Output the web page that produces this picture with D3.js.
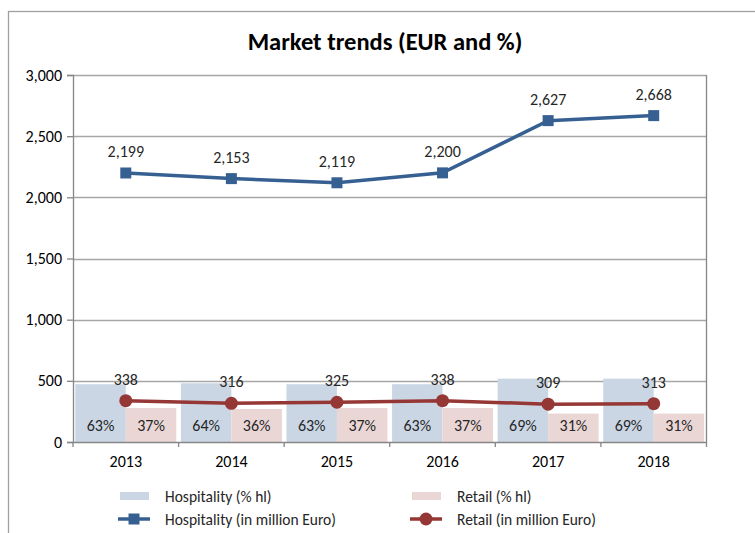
<!DOCTYPE html>
<html>
<head>
<meta charset="utf-8">
<script src="https://cdn.jsdelivr.net/npm/d3@7"></script>
<style>
  body { margin: 0; background: #fff; }
  svg text { font-family: Carlito, Calibri, Lato, "Open Sans", sans-serif; fill: #000; }
</style>
</head>
<body>
<script>
(function () {

    //chart data
    var years = ["2013", "2014", "2015", "2016", "2017", "2018"];
    var hospEuro = [2199, 2153, 2119, 2200, 2627, 2668];
    var retailEuro = [338, 316, 325, 338, 309, 313];
    var hospPct = [63, 64, 63, 63, 69, 69];
    var retailPct = [37, 36, 37, 37, 31, 31];
    var yTicks = [0, 500, 1000, 1500, 2000, 2500, 3000];

    var width = 755,
        height = 533,
        left = 73,
        right = 706.5,
        top = 75,
        bottom = 442;

    var blue = "#376092",
        red = "#953735",
        blueBar = "#cbd6e4",
        redBar = "#ebd6d6",
        gridColor = "#a6a6a6",
        axisColor = "#868686",
        labelColor = "#262626";

    var svg = d3.select("body")
        .append("svg")
        .attr("width", width)
        .attr("height", height);

    //outer chart frame (cut off on right and bottom)
    svg.append("rect")
        .attr("x", 8.5)
        .attr("y", 11.5)
        .attr("width", 800)
        .attr("height", 600)
        .attr("fill", "#fff")
        .attr("stroke", "#a0a0a0")
        .attr("stroke-width", 1.3);

    svg.append("text")
        .attr("x", 385)
        .attr("y", 50)
        .attr("text-anchor", "middle")
        .style("font-size", "24.5px")
        .style("font-weight", "bold")
        .text("Market trends (EUR and %)");

    //scales
    var x = d3.scaleBand()
        .domain(years)
        .range([left, right]);

    var y = d3.scaleLinear()
        .domain([0, 3000])
        .range([bottom, top]);

    //percent bars share the same height: 100% = 750 on main axis
    var yPct = d3.scaleLinear()
        .domain([0, 400])
        .range([bottom, top]);

    //gridlines
    svg.append("g")
        .selectAll("line")
        .data(yTicks.slice(1))
        .enter()
        .append("line")
        .attr("x1", left)
        .attr("x2", right)
        .attr("y1", function (d) { return Math.round(y(d)) + 0.5; })
        .attr("y2", function (d) { return Math.round(y(d)) + 0.5; })
        .attr("stroke", gridColor)
        .attr("stroke-width", 1.3);

    //bars
    var pad = 2.3,
        barW = (x.bandwidth() - 2 * pad) / 2;

    var groups = svg.append("g")
        .selectAll("g")
        .data(years)
        .enter()
        .append("g");

    groups.append("rect")
        .attr("x", function (d) { return x(d) + pad; })
        .attr("y", function (d, i) { return yPct(hospPct[i]); })
        .attr("width", barW)
        .attr("height", function (d, i) { return bottom - yPct(hospPct[i]); })
        .attr("fill", blueBar);

    groups.append("rect")
        .attr("x", function (d) { return x(d) + pad + barW; })
        .attr("y", function (d, i) { return yPct(retailPct[i]); })
        .attr("width", barW)
        .attr("height", function (d, i) { return bottom - yPct(retailPct[i]); })
        .attr("fill", redBar);

    groups.append("text")
        .attr("x", function (d) { return x(d) + pad + barW / 2; })
        .attr("y", 431)
        .attr("text-anchor", "middle")
        .style("font-size", "16px")
        .style("fill", labelColor)
        .text(function (d, i) { return hospPct[i] + "%"; });

    groups.append("text")
        .attr("x", function (d) { return x(d) + pad + barW * 1.5; })
        .attr("y", 431)
        .attr("text-anchor", "middle")
        .style("font-size", "16px")
        .style("fill", labelColor)
        .text(function (d, i) { return retailPct[i] + "%"; });

    //axes
    var yAxis = d3.axisLeft(y)
        .tickValues(yTicks)
        .tickSize(6)
        .tickPadding(5)
        .tickFormat(d3.format(","));

    var yg = svg.append("g")
        .attr("transform", "translate(" + left + ",0)")
        .call(yAxis);

    var xAxis = d3.axisBottom(x)
        .tickSize(0)
        .tickPadding(14);

    var xg = svg.append("g")
        .attr("transform", "translate(0," + bottom + ")")
        .call(xAxis);

    //tick marks between categories
    xg.selectAll(".sep")
        .data(years.concat(["end"]))
        .enter()
        .append("line")
        .attr("class", "sep")
        .attr("x1", function (d, i) { return i < years.length ? x(d) : right; })
        .attr("x2", function (d, i) { return i < years.length ? x(d) : right; })
        .attr("y1", 0)
        .attr("y2", 5)
        .attr("stroke", axisColor)
        .attr("stroke-width", 1.3);

    [yg, xg].forEach(function (g) {
        g.select(".domain").attr("stroke", axisColor).attr("stroke-width", 1.3);
        g.selectAll(".tick line").attr("stroke", axisColor).attr("stroke-width", 1.3);
        g.selectAll("text").style("font-size", "16px").style("font-family", null).attr("fill", labelColor);
    });

    //right edge of plot area
    svg.append("line")
        .attr("x1", right)
        .attr("x2", right)
        .attr("y1", top)
        .attr("y2", bottom)
        .attr("stroke", axisColor)
        .attr("stroke-width", 1.3);

    //lines
    var line = d3.line()
        .x(function (d, i) { return x(years[i]) + x.bandwidth() / 2; })
        .y(function (d) { return y(d); });

    function drawSeries(values, color, shape) {
        svg.append("path")
            .datum(values)
            .attr("d", line)
            .attr("fill", "none")
            .attr("stroke", color)
            .attr("stroke-width", 3.5);

        var pts = svg.append("g")
            .selectAll("g")
            .data(values)
            .enter()
            .append("g")
            .attr("transform", function (d, i) {
                return "translate(" + (x(years[i]) + x.bandwidth() / 2) + "," + y(d) + ")";
            });

        if (shape == "square") {
            pts.append("rect")
                .attr("x", -5.5)
                .attr("y", -5.5)
                .attr("width", 11)
                .attr("height", 11)
                .attr("fill", color);
        } else {
            pts.append("circle")
                .attr("r", 6.5)
                .attr("fill", color);
        }

        pts.append("text")
            .attr("y", -16)
            .attr("text-anchor", "middle")
            .style("font-size", "16px")
            .style("fill", labelColor)
            .text(function (d) { return d3.format(",")(d); });
    }

    drawSeries(hospEuro, blue, "square");
    drawSeries(retailEuro, red, "circle");

    //legend
    var legend = svg.append("g").style("font-size", "15.5px");

    legend.append("rect").attr("x", 120).attr("y", 492).attr("width", 29).attr("height", 8).attr("fill", blueBar);
    legend.append("text").attr("x", 165).attr("y", 502).style("fill", labelColor).text("Hospitality (% hl)");

    legend.append("rect").attr("x", 412).attr("y", 492).attr("width", 29).attr("height", 8).attr("fill", redBar);
    legend.append("text").attr("x", 457).attr("y", 502).style("fill", labelColor).text("Retail (% hl)");

    legend.append("line").attr("x1", 118).attr("x2", 150).attr("y1", 519).attr("y2", 519)
        .attr("stroke", blue).attr("stroke-width", 3.5);
    legend.append("rect").attr("x", 128.5).attr("y", 513.5).attr("width", 11).attr("height", 11).attr("fill", blue);
    legend.append("text").attr("x", 165).attr("y", 525).style("fill", labelColor).text("Hospitality (in million Euro)");

    legend.append("line").attr("x1", 410).attr("x2", 442).attr("y1", 519).attr("y2", 519)
        .attr("stroke", red).attr("stroke-width", 3.5);
    legend.append("circle").attr("cx", 426).attr("cy", 519).attr("r", 6.5).attr("fill", red);
    legend.append("text").attr("x", 457).attr("y", 525).style("fill", labelColor).text("Retail (in million Euro)");

})();
</script>
</body>
</html>
